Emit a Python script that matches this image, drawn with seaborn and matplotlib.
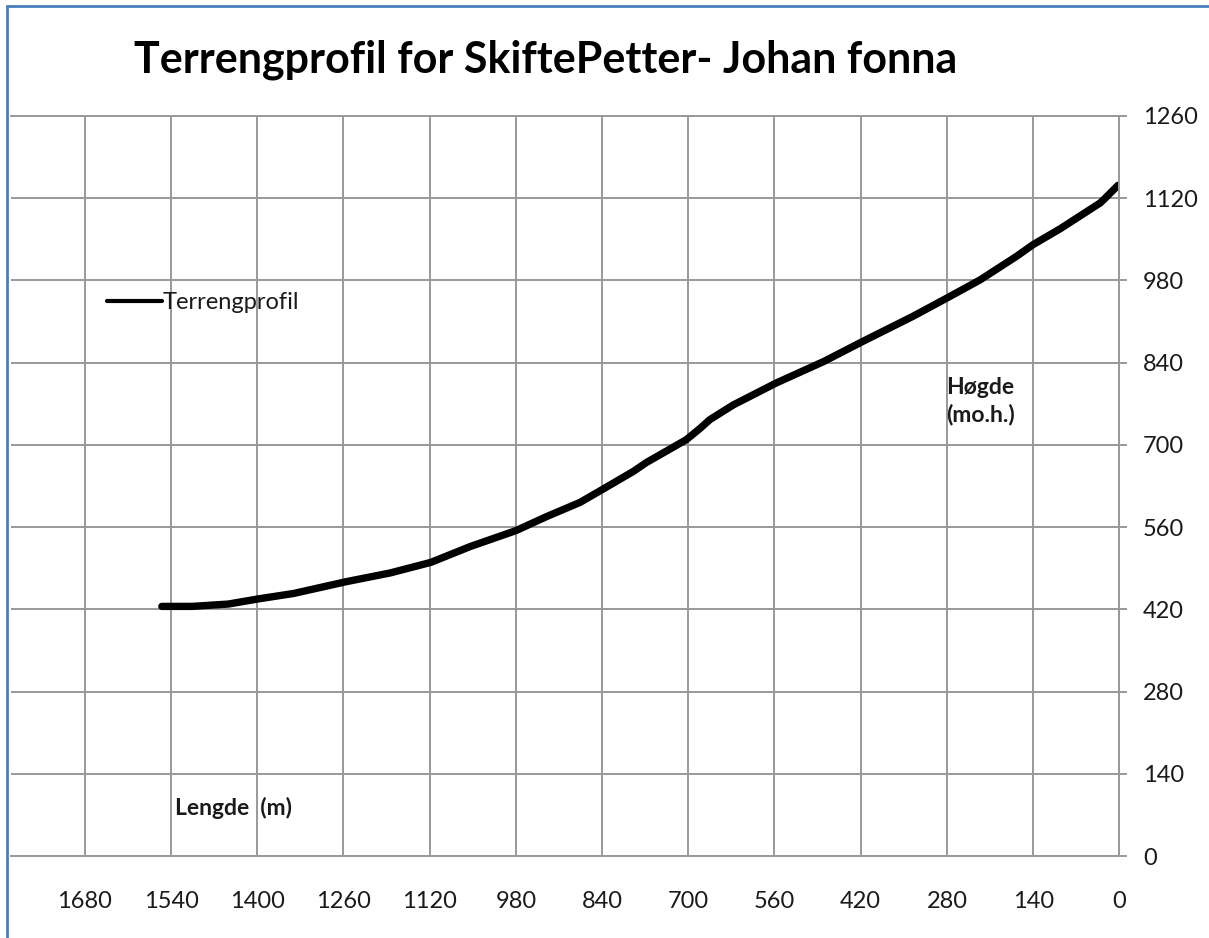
"""
Terrengprofil for SkiftePetter- Johan fonna
"""
#%% import libraries
import numpy as np
import pandas as pd
import matplotlib
matplotlib.use("Agg")
import matplotlib.pyplot as plt
from matplotlib.lines import Line2D
import seaborn as sns

#%% data
lengde = [1555, 1506, 1447, 1397, 1341, 1256, 1184, 1118, 1054, 980, 930, 876,
          838, 789, 768, 703, 681, 665, 627, 558, 480, 417, 335, 280, 226, 167,
          140, 96, 31, 23, 2]
hogde = [425, 425, 429, 438, 447, 467, 482, 500, 527, 554, 578, 602,
         625, 655, 670, 709, 728, 743, 768, 805, 842, 876, 919, 950, 981, 1021,
         1041, 1068, 1112, 1120, 1142]
x_ticks = list(range(0, 1681, 140))
y_ticks = list(range(0, 1261, 140))

df = pd.DataFrame({"Lengde": lengde, "Høgde": hogde})

#%% style
sns.set_style("white")
plt.rcParams["font.family"] = ["Lato", "DejaVu Sans"]
grid_col = "#999999"
txt_col = "#1a1a1a"

W, H = 1209, 938
fig = plt.figure(figsize=(W / 100, H / 100), dpi=100)
ax = fig.add_axes([11 / W, 1 - 856 / H, (1119.3 - 11) / W, (856 - 116) / H])

sns.lineplot(data=df, x="Lengde", y="Høgde", ax=ax, color="black",
             linewidth=5.3, sort=False, label="Terrengprofil")

ax.set_xlim(1800, 0)
ax.set_ylim(0, 1260)
ax.set_xticks(x_ticks)
ax.set_yticks(y_ticks)
ax.yaxis.tick_right()
ax.grid(True, color=grid_col, linewidth=1.4)
ax.set_axisbelow(True)
ax.spines["left"].set_visible(False)
for side in ["right", "bottom", "top"]:
    ax.spines[side].set_color(grid_col)
    ax.spines[side].set_linewidth(1.4)

ax.tick_params(axis="x", length=6, width=1.4, color=grid_col, pad=19,
               labelsize=17, labelcolor=txt_col, direction="out")
ax.tick_params(axis="y", length=6, width=1.4, color=grid_col, pad=11,
               labelsize=17, labelcolor=txt_col, direction="out")
ax.set_xlabel("")
ax.set_ylabel("")

# legend without frame
leg = ax.legend(handles=[Line2D([0], [0], color="black", linewidth=3)],
                labels=["Terrengprofil"], loc="upper left", frameon=False,
                bbox_to_anchor=(87 / 1108, 0.775), fontsize=17,
                handlelength=2.3, handletextpad=0.05, borderaxespad=0)
for t in leg.get_texts():
    t.set_color(txt_col)

# axis titles placed inside the plot like the original
fig.text(946 / W, 1 - 401 / H, "Høgde\n(mo.h.)", fontsize=16.5, fontweight="bold",
         color=txt_col, ha="left", va="center", linespacing=1.3)
fig.text(175 / W, 1 - 808 / H, "Lengde  (m)", fontsize=16.5, fontweight="bold",
         color=txt_col, ha="left", va="center")

fig.text(546 / W, 1 - 60 / H, "Terrengprofil for SkiftePetter- Johan fonna",
         fontsize=31, fontweight="bold", color="black", ha="center", va="center")

# blue chart border (top and left)
fig.add_artist(Line2D([7 / W, 1], [1 - 6 / H, 1 - 6 / H], color="#4a7ebb",
                      linewidth=2, transform=fig.transFigure))
fig.add_artist(Line2D([7 / W, 7 / W], [0, 1 - 6 / H], color="#4a7ebb",
                      linewidth=2, transform=fig.transFigure))

fig.savefig("out.png", dpi=100)
